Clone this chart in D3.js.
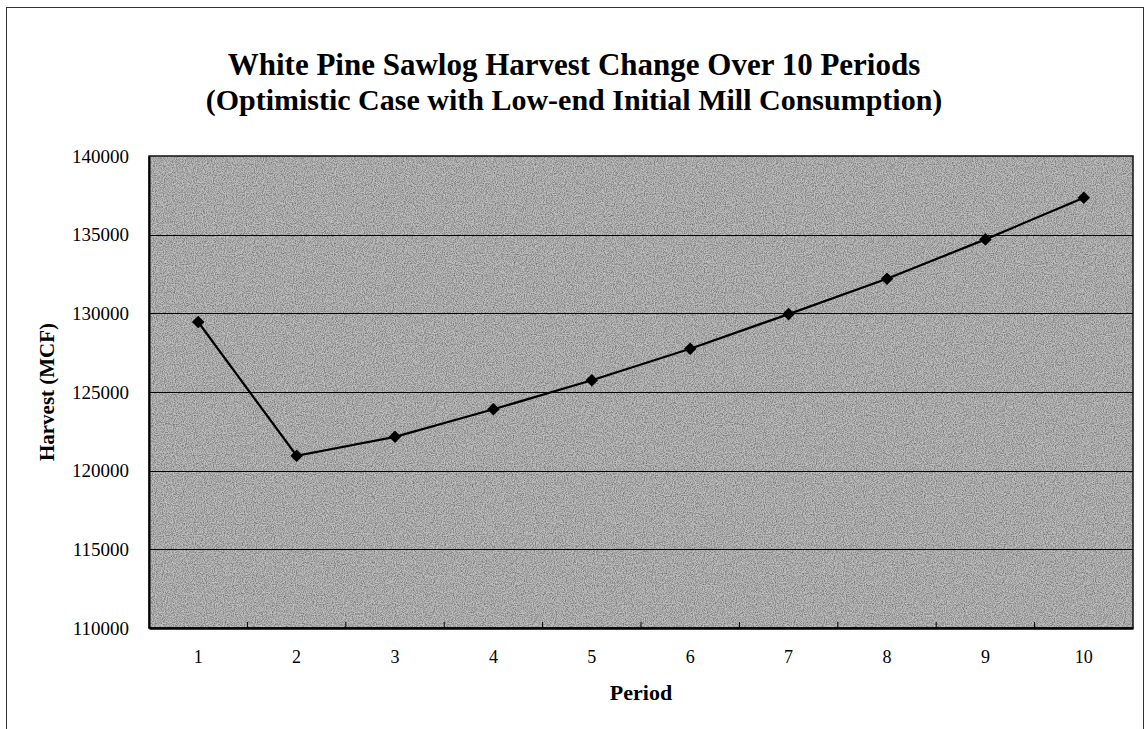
<!DOCTYPE html>
<html>
<head>
<meta charset="utf-8">
<script src="https://cdn.jsdelivr.net/npm/d3@7"></script>
<style>
  html, body { margin: 0; padding: 0; background: #fff; }
  svg { display: block; }
  text { font-family: "Liberation Serif", "Times New Roman", serif; fill: #000; }
</style>
</head>
<body>
<script>
// Harvest per period (MCF)
const periods = ["1", "2", "3", "4", "5", "6", "7", "8", "9", "10"];
const harvest = [129450, 120950, 122150, 123900, 125750, 127750, 129950, 132200, 134700, 137350];
const yTicks = [110000, 115000, 120000, 125000, 130000, 135000, 140000];
const titleLines = [
  "White Pine Sawlog Harvest Change Over 10 Periods",
  "(Optimistic Case with Low-end Initial Mill Consumption)"
];

const W = 1145, H = 729;
const plot = { left: 149, top: 156, right: 1133, bottom: 628 };

const svg = d3.select("body").append("svg").attr("width", W).attr("height", H);

// grainy gray fill for the plot area
const defs = svg.append("defs");
const f = defs.append("filter").attr("id", "grain")
  .attr("x", 0).attr("y", 0).attr("width", "100%").attr("height", "100%");
f.append("feTurbulence").attr("type", "fractalNoise").attr("baseFrequency", "0.9")
  .attr("numOctaves", 2).attr("seed", 4).attr("result", "noise");
f.append("feColorMatrix").attr("in", "noise").attr("type", "matrix")
  .attr("values", "0 0 0 0 0  0 0 0 0 0  0 0 0 0 0  0 0 0 1.6 -0.55").attr("result", "dots");
f.append("feComposite").attr("in", "dots").attr("in2", "SourceGraphic").attr("operator", "in");

// outer chart frame
svg.append("rect")
  .attr("x", 6.5).attr("y", 7.5).attr("width", 1137).attr("height", 740)
  .attr("fill", "none").attr("stroke", "#333").attr("stroke-width", 1);

const x = d3.scaleBand().domain(periods).range([plot.left, plot.right]);
const y = d3.scaleLinear().domain([110000, 140000]).range([plot.bottom, plot.top]);

// plot area background
svg.append("rect")
  .attr("x", plot.left).attr("y", plot.top)
  .attr("width", plot.right - plot.left).attr("height", plot.bottom - plot.top)
  .attr("fill", "#bfbfbf");
svg.append("rect")
  .attr("x", plot.left).attr("y", plot.top)
  .attr("width", plot.right - plot.left).attr("height", plot.bottom - plot.top)
  .attr("fill", "#ffffff").attr("filter", "url(#grain)").attr("opacity", 0.5);

// horizontal gridlines
svg.append("g").selectAll("line")
  .data(yTicks.filter(v => v > 110000 && v < 140000))
  .join("line")
  .attr("x1", plot.left).attr("x2", plot.right)
  .attr("y1", d => Math.round(y(d)) + 0.5).attr("y2", d => Math.round(y(d)) + 0.5)
  .attr("stroke", "#000").attr("stroke-width", 1.2);

// plot border
svg.append("rect")
  .attr("x", plot.left).attr("y", plot.top)
  .attr("width", plot.right - plot.left).attr("height", plot.bottom - plot.top)
  .attr("fill", "none").attr("stroke", "#111").attr("stroke-width", 1.5);

// y axis
const yAxis = svg.append("g")
  .attr("transform", `translate(${plot.left},0)`)
  .call(d3.axisLeft(y).tickValues(yTicks).tickSize(0).tickPadding(20).tickFormat(d3.format("d")));
yAxis.select(".domain").attr("stroke", "#000").attr("stroke-width", 2);
yAxis.selectAll("text").style("font-size", "19px").style("font-family", "Liberation Serif");

// x axis with tick marks between categories
const xAxis = svg.append("g")
  .attr("transform", `translate(0,${plot.bottom})`)
  .call(d3.axisBottom(x).tickSize(0).tickPadding(22));
xAxis.select(".domain").attr("stroke", "#000").attr("stroke-width", 2.5);
xAxis.selectAll("text").style("font-size", "18px").style("font-family", "Liberation Serif");
svg.append("g").selectAll("line")
  .data(periods.slice(1))
  .join("line")
  .attr("x1", d => x(d)).attr("x2", d => x(d))
  .attr("y1", plot.bottom - 6).attr("y2", plot.bottom)
  .attr("stroke", "#000").attr("stroke-width", 1);

// series line
const cx = d => x(d) + x.bandwidth() / 2;
const line = d3.line().x((d, i) => cx(periods[i])).y(d => y(d));
svg.append("path")
  .datum(harvest)
  .attr("d", line)
  .attr("fill", "none").attr("stroke", "#000").attr("stroke-width", 2.2);

// diamond markers
const diamond = d3.symbol().type(d3.symbolDiamond2).size(100);
svg.append("g").selectAll("path")
  .data(harvest)
  .join("path")
  .attr("d", diamond)
  .attr("transform", (d, i) => `translate(${cx(periods[i])},${y(d)})`)
  .attr("fill", "#000");

// title
svg.append("g").selectAll("text")
  .data(titleLines)
  .join("text")
  .attr("x", 574).attr("y", (d, i) => 75 + i * 35)
  .attr("text-anchor", "middle")
  .style("font-size", (d, i) => i === 0 ? "31px" : "30px").style("font-weight", "bold")
  .text(d => d);

// axis titles
svg.append("text")
  .attr("transform", `translate(54,${(plot.top + plot.bottom) / 2}) rotate(-90)`)
  .attr("text-anchor", "middle")
  .style("font-size", "21px").style("font-weight", "bold")
  .text("Harvest (MCF)");

svg.append("text")
  .attr("x", (plot.left + plot.right) / 2).attr("y", 700)
  .attr("text-anchor", "middle")
  .style("font-size", "22px").style("font-weight", "bold")
  .text("Period");
</script>
</body>
</html>
